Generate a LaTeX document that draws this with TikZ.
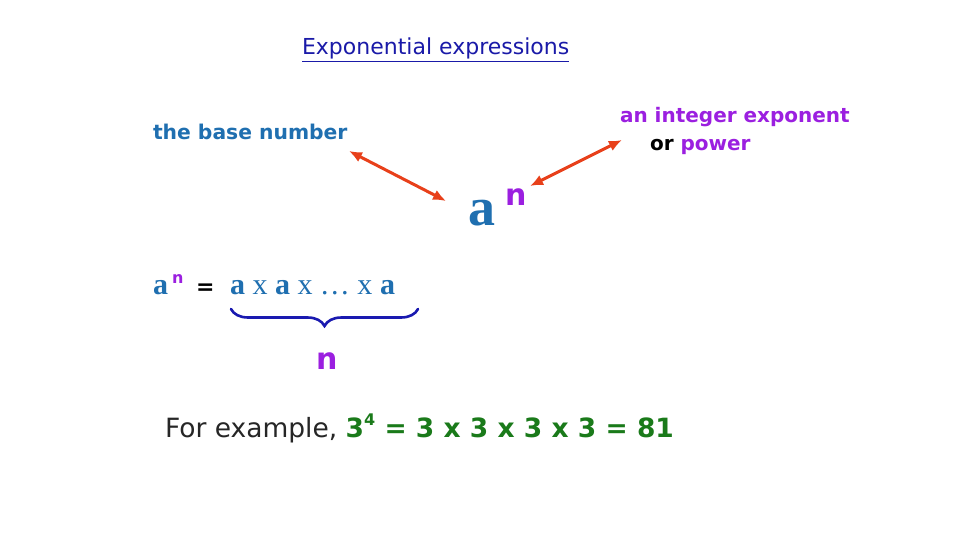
\documentclass[tikz,border=0pt]{standalone}
\usepackage{fontspec}
\setmainfont{DejaVu Sans}
\newfontfamily\serifa{Liberation Serif}
\usetikzlibrary{arrows.meta,decorations.pathreplacing}
\definecolor{titleblue}{HTML}{1A1AA8}
\definecolor{steel}{HTML}{1F6FB0}
\definecolor{purp}{HTML}{9B1FE0}
\definecolor{arrowred}{HTML}{E8401A}
\definecolor{egreen}{HTML}{1A7A1A}
\definecolor{braceblue}{HTML}{1A1AB0}
\tikzset{
  lbl/.style={inner sep=0pt, outer sep=0pt},
  dbl/.style={draw=arrowred, line width=3pt, {Latex[length=13pt,width=11pt]}-{Latex[length=13pt,width=11pt]}},
}
\begin{document}
\begin{tikzpicture}[x=1pt,y=-1pt]
\useasboundingbox[fill=white] (0,0) rectangle (960,540);
% title
\node[lbl, anchor=base west, text=titleblue, font=\fontsize{22}{24}\selectfont] (title) at (302,55) {\underline{Exponential expressions}};
% base number
\node[lbl, anchor=base west, text=steel, font=\fontsize{20.3}{22}\selectfont\bfseries] (base) at (153,140) {the base number};
% exponent
\node[lbl, anchor=base west, text=purp, font=\fontsize{20}{22}\selectfont\bfseries] (expo) at (620,123) {an integer exponent};
\node[lbl, anchor=base west, font=\fontsize{20}{22}\selectfont\bfseries] (power) at (650,151) {\textcolor{black}{or} \textcolor{purp}{power}};
% big a^n
\node[lbl, anchor=base west, text=steel, font=\fontsize{54}{56}\selectfont\serifa\bfseries] (biga) at (468,225) {a};
\node[lbl, anchor=base west, text=purp, font=\fontsize{30}{32}\selectfont\bfseries] (bign) at (505,205) {n};
% arrows
\coordinate (b1) at (349,151);
\coordinate (b2) at (446,201);
\coordinate (e1) at (530,186);
\coordinate (e2) at (622,140);
\draw[dbl] (b1) -- (b2);
\draw[dbl] (e1) -- (e2);
% expansion
\node[lbl, anchor=base west, text=steel, font=\fontsize{30}{32}\selectfont\serifa\bfseries] (ea) at (153,294) {a};
\node[lbl, anchor=base west, text=purp, font=\fontsize{16}{16}\selectfont\bfseries] (en) at (172,283) {n};
\node[lbl, anchor=base west, font=\fontsize{22}{24}\selectfont\bfseries] (eq) at (196,294) {=};
\node[lbl, anchor=base west, text=steel, font=\fontsize{30}{32}\selectfont\serifa] (prod) at (230,294) {\textbf{a} x \textbf{a} x … x \textbf{a}};
% brace
\coordinate (br1) at (231,309);
\coordinate (br2) at (418,309);
\draw[braceblue, line width=2.6pt, line cap=round, decorate, decoration={brace, mirror, amplitude=17pt}] (br1) -- (br2);
\node[lbl, anchor=base west, text=purp, font=\fontsize{30}{32}\selectfont\bfseries] (nn) at (316,369) {n};
% example
\node[lbl, anchor=base west, font=\fontsize{26.5}{28}\selectfont] (ex) at (165,437) {\textcolor{black!85}{For example,} \textcolor{egreen}{\bfseries 3\raisebox{0.42em}{\fontsize{16}{16}\selectfont 4} = 3 x 3 x 3 x 3 = 81}};
\end{tikzpicture}
\end{document}
